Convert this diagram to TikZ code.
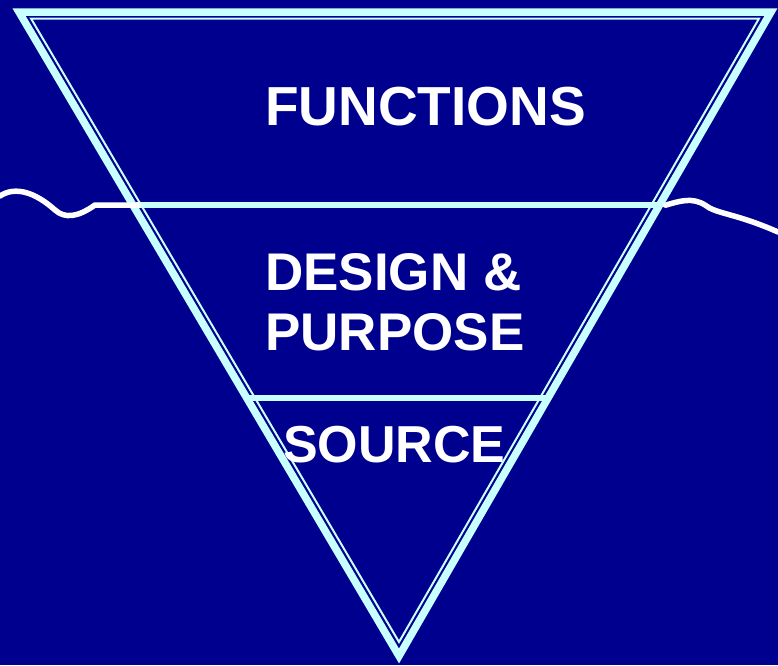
\documentclass[tikz,border=0pt]{standalone}
\usepackage{fontspec}
\setmainfont{Liberation Sans}
\usetikzlibrary{calc}

\definecolor{navy}{RGB}{0,0,142}
\definecolor{ice}{RGB}{200,255,255}

\tikzset{
  layer/.style={font=\bfseries\fontsize{55}{60}\selectfont, text=white,
    anchor=base west, inner sep=0pt},
  rim/.style={ice, line width=7.5pt, line join=miter},
  innerrim/.style={ice, line width=2pt, line join=miter},
  divider/.style={ice, line width=6pt},
  water/.style={white, line width=5.5pt, line cap=round}
}

\begin{document}
\begin{tikzpicture}[x=1pt,y=-1pt]

\fill[navy] (0,0) rectangle (778,665);
\useasboundingbox (0,0) rectangle (778,665);

% outer and inner triangle
\coordinate (tl) at (19,12);
\coordinate (tr) at (771,12);
\coordinate (bt) at (399,656);
\coordinate (itl) at (31,18.5);
\coordinate (itr) at (759,18.5);
\coordinate (ibt) at (399,642);
\draw[rim] (tl) -- (tr) -- (bt) -- cycle;
\draw[innerrim] (itl) -- (itr) -- (ibt) -- cycle;

% dividers
\coordinate (sl) at ($(tl)!0.3!(bt)$);
\coordinate (sr) at ($(tr)!0.3!(bt)$);
\coordinate (dl) at ($(tl)!0.6!(bt)$);
\coordinate (dr) at ($(tr)!0.6!(bt)$);
\draw[divider] (sl) -- (sr);
\draw[divider] (dl) -- (dr);

% water line
\coordinate (wl) at (0,196);
\coordinate (wr) at (778,232);
\draw[water] (wl) .. controls (15,186) and (35,192) .. (55,210)
  .. controls (65,219) and (78,217) .. (95,205) -- ($(sl)+(6,0)$);
\draw[water] ($(sr)+(6,0)$) .. controls (680,201) and (692,197) .. (705,205)
  .. controls (716,214) and (735,213) .. (wr);

% labels
\node[layer] (functions) at (265,125) {FUNCTIONS};
\node[layer, font=\bfseries\fontsize{53}{60}\selectfont] (design) at (265,290) {DESIGN \&};
\node[layer, font=\bfseries\fontsize{53}{60}\selectfont] (purpose) at (265,350) {PURPOSE};
\node[layer, font=\bfseries\fontsize{52}{60}\selectfont] (source) at (283,462) {SOURCE};

\end{tikzpicture}
\end{document}
